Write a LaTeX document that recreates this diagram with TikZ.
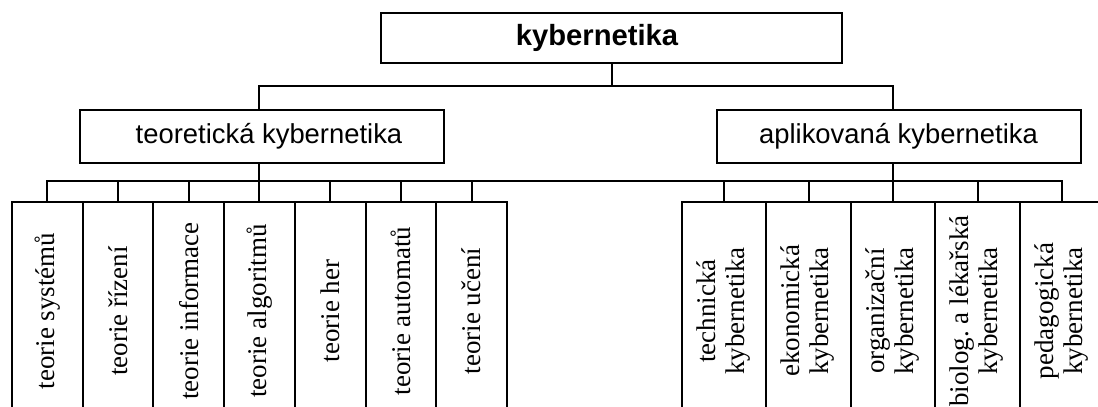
\documentclass[tikz,border=0pt]{standalone}
\usepackage{fontspec}
\setmainfont{Liberation Serif}
\newfontfamily\arial{Liberation Sans}
\usepackage{graphicx}
\tikzset{
box/.style={draw, rectangle, line width=1pt, inner sep=0pt},
head/.style={box, minimum width=230.5pt, minimum height=25pt,
  font=\arial\bfseries\fontsize{14.6}{16}\selectfont},
branch/.style={box, minimum width=182pt, minimum height=26.5pt,
  font=\arial\fontsize{13.7}{15}\selectfont},
leaf/.style={box, minimum width=35.35pt, minimum height=109pt,
  font=\fontsize{13.5}{14.3}\selectfont},
wideleaf/.style={leaf, minimum width=42.25pt},
link/.style={line width=1pt, line cap=rect},
}
\newcommand{\leaftext}[1]{\rotatebox{90}{#1}}
\newcommand{\leaftwo}[2]{\rotatebox{90}{\begin{tabular}{@{}c@{}}#1\\#2\end{tabular}}}

\begin{document}
\begin{tikzpicture}[x=0.5pt,y=-0.5pt]
\useasboundingbox (0,0) rectangle (1098,407);
\clip (0,0) rectangle (1098,407);
% the boxes
\node[head] (top) at (611.5,38) {kybernetika\kern14.5pt};
\node[branch] (teor) at (262,136.5) {\kern7pt teoretická kybernetika};
\node[branch] (apl) at (898.5,136.5) {aplikovaná kybernetika};
\foreach \name [count=\i] in {teorie systémů,teorie řízení,teorie informace,teorie algoritmů,teorie her,teorie automatů,teorie učení}
  \node[leaf] (t\i) at ({12+70.7*(\i-0.5)},311) {\leaftext{\name}};
\foreach \up/\low [count=\i] in {technická/kybernetika,ekonomická/kybernetika,organizační/kybernetika,biolog.\ a lékařská/kybernetika,pedagogická/kybernetika}
  \node[wideleaf] (a\i) at ({681.75+84.5*(\i-0.5)},311) {\leaftwo{\up}{\low}};
% the bars
\coordinate (upbar) at (0,86);
\coordinate (lowbar) at (0,181);
\draw[link] (top.south) -- (top.south |- upbar);
\draw[link] (teor.north -| t4.north) |- (upbar -| a3.north) -- (apl.north -| a3.north);
\draw[link] (teor.south -| t4.north) -- (t4.north);
\draw[link] (apl.south -| a3.north) -- (a3.north);
\draw[link] (t1.north |- lowbar) -- (a5.north |- lowbar);
\foreach \i in {1,...,7}
  \draw[link] (t\i.north) -- (t\i.north |- lowbar);
\foreach \i in {1,2,4,5}
  \draw[link] (a\i.north) -- (a\i.north |- lowbar);
\end{tikzpicture}
\end{document}
